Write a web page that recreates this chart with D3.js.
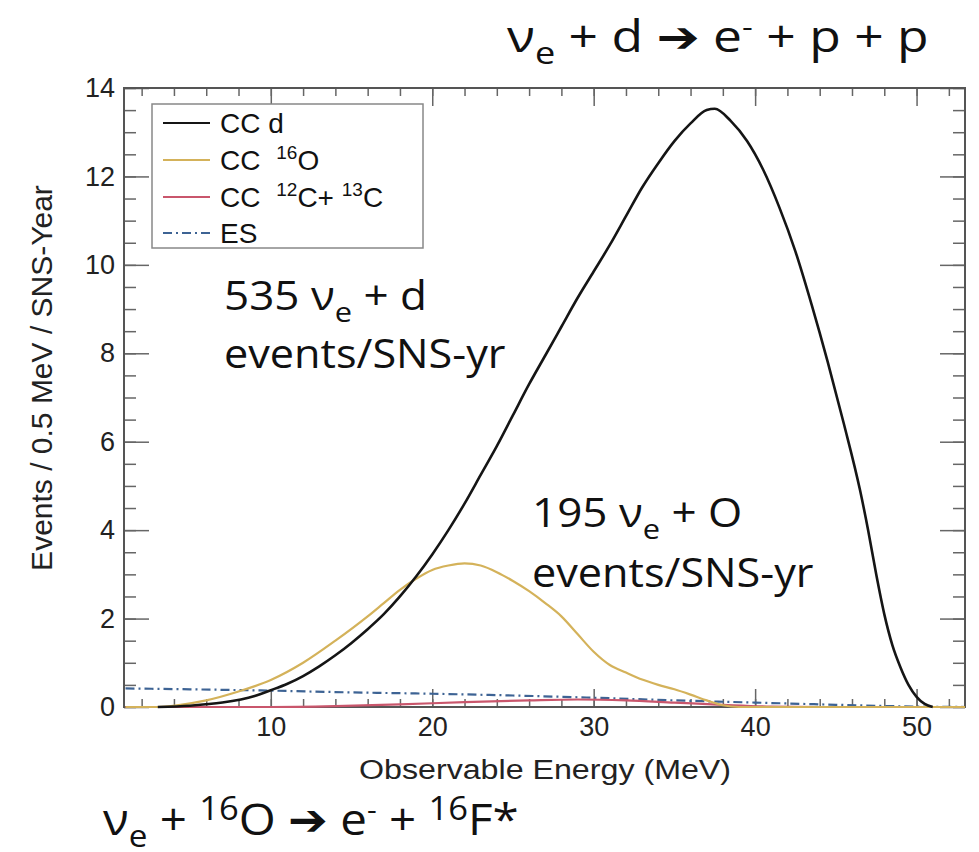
<!DOCTYPE html>
<html>
<head>
<meta charset="utf-8">
<script src="https://cdn.jsdelivr.net/npm/d3@7/dist/d3.min.js"></script>
<style>
  body { margin: 0; background: #fff; }
  .tick text { font-family: "Liberation Sans", Arial, sans-serif; fill: #222; }
</style>
</head>
<body>
<div id="vis"></div>
<script>
// CC on deuterium (black)
var ccdE = [3, 5, 7, 9, 10, 11, 12, 13, 14, 15, 16, 17, 18, 19, 20, 21, 22, 23, 24, 25, 26, 27, 28, 29, 30,
  31, 32, 33, 34, 35, 36, 37, 37.5, 38.5, 39.5, 40.5, 41.5, 42.5, 43.5, 44.5, 45.5, 46.5, 47,
  47.5, 48, 48.5, 49, 49.5, 50, 50.5, 51];
var ccdN = [0, 0.03, 0.1, 0.25, 0.38, 0.52, 0.7, 0.92, 1.17, 1.45, 1.76, 2.1, 2.5, 2.95, 3.45, 4.0, 4.6, 5.25, 5.9, 6.6, 7.3, 7.95, 8.6, 9.25, 9.85,
  10.45, 11.1, 11.75, 12.3, 12.8, 13.2, 13.5, 13.53, 13.25, 12.8, 12.15, 11.3, 10.3, 9.1, 7.8, 6.4, 4.9, 4.0,
  3.0, 2.1, 1.4, 0.9, 0.5, 0.23, 0.07, 0];

// CC on 16O (gold)
var oxyE = [1, 3, 4.4, 6, 8, 10, 12, 14, 16, 17, 18, 19, 20, 21, 22, 23, 24, 25, 26, 27, 28, 29, 30,
  31, 32, 33, 34, 35, 36, 37, 38, 39, 53];
var oxyN = [0, 0, 0.05, 0.15, 0.35, 0.61, 1.0, 1.5, 2.05, 2.35, 2.65, 2.9, 3.1, 3.2, 3.25, 3.2, 3.05, 2.85, 2.62, 2.35, 2.05, 1.65, 1.25,
  0.95, 0.78, 0.62, 0.5, 0.4, 0.28, 0.15, 0.04, 0, 0];

// CC on 12C + 13C (red)
var carbE = [1, 10, 14, 18, 22, 26, 29, 32, 35, 38, 41, 44, 53];
var carbN = [0, 0, 0.02, 0.06, 0.11, 0.15, 0.17, 0.15, 0.1, 0.05, 0.01, 0, 0];

// elastic scattering (blue dash-dot)
var esE = [1, 5, 10, 15, 20, 25, 30, 35, 40, 45, 50, 53];
var esN = [0.42, 0.4, 0.37, 0.33, 0.3, 0.26, 0.21, 0.15, 0.1, 0.05, 0.01, 0];

var xMajor = [10, 20, 30, 40, 50];
var xMinor = d3.range(2, 53, 2);
var yMajor = [0, 2, 4, 6, 8, 10, 12, 14];
var yMinor = d3.range(0, 14.01, 0.5);

var legendNames = ['CC d', 'CC 16O', 'CC 12C+13C', 'ES'];

var width = 979;
var height = 852;
// plot frame edges (note: "top" is reserved on window)
var pLeft = 124, pRight = 965, pTop = 88, pBottom = 707;

var svg = d3.select('#vis').append('svg')
  .attr('width', width)
  .attr('height', height);

var x = d3.scaleLinear().domain([1, 53]).range([125.5, 965]);
var y = d3.scaleLinear().domain([0, 14]).range([pBottom, pTop]);

function pts(xs, ys) {
  return xs.map(function (d, i) { return [d, ys[i]]; });
}

var line = d3.line()
  .x(function (d) { return x(d[0]); })
  .y(function (d) { return y(d[1]); })
  .curve(d3.curveMonotoneX);

// minor ticks
svg.append('g').attr('transform', 'translate(0,' + pBottom + ')')
  .call(d3.axisBottom(x).tickValues(xMinor).tickSize(-8).tickFormat(''));
svg.append('g').attr('transform', 'translate(0,' + pTop + ')')
  .call(d3.axisTop(x).tickValues(xMinor).tickSize(-8).tickFormat(''));
svg.append('g').attr('transform', 'translate(' + pLeft + ',0)')
  .call(d3.axisLeft(y).tickValues(yMinor).tickSize(-12).tickFormat(''));
svg.append('g').attr('transform', 'translate(' + pRight + ',0)')
  .call(d3.axisRight(y).tickValues(yMinor).tickSize(-12).tickFormat(''));

// major ticks
svg.append('g').attr('class', 'xaxis').attr('transform', 'translate(0,' + pBottom + ')')
  .call(d3.axisBottom(x).tickValues(xMajor).tickSize(-18).tickPadding(10));
svg.append('g').attr('transform', 'translate(0,' + pTop + ')')
  .call(d3.axisTop(x).tickValues(xMajor).tickSize(-18).tickFormat(''));
svg.append('g').attr('class', 'yaxis').attr('transform', 'translate(' + pLeft + ',0)')
  .call(d3.axisLeft(y).tickValues(yMajor).tickSize(-25).tickPadding(9));
svg.append('g').attr('transform', 'translate(' + pRight + ',0)')
  .call(d3.axisRight(y).tickValues(yMajor).tickSize(-25).tickFormat(''));

svg.selectAll('.domain').remove();
svg.selectAll('.tick line').attr('stroke', '#666').attr('stroke-width', 1.5);
svg.selectAll('.tick text').style('font-size', '27px');

// frame
svg.append('rect')
  .attr('x', pLeft).attr('y', pTop)
  .attr('width', pRight - pLeft).attr('height', pBottom - pTop)
  .attr('fill', 'none').attr('stroke', '#555').attr('stroke-width', 2);

// curves
svg.append('path').datum(pts(esE, esN))
  .attr('d', line).attr('fill', 'none')
  .attr('stroke', '#3d6394').attr('stroke-width', 2.2)
  .attr('stroke-dasharray', '9,4,2,4');
svg.append('path').datum(pts(carbE, carbN))
  .attr('d', line).attr('fill', 'none')
  .attr('stroke', '#c9566c').attr('stroke-width', 2.2);
svg.append('path').datum(pts(oxyE, oxyN))
  .attr('d', line).attr('fill', 'none')
  .attr('stroke', '#d4b25a').attr('stroke-width', 2.2);
svg.append('path').datum(pts(ccdE, ccdN))
  .attr('d', line).attr('fill', 'none')
  .attr('stroke', '#151515').attr('stroke-width', 2.6);

// axis titles
svg.append('text')
  .attr('transform', 'translate(545,779) scale(1.15,1)')
  .attr('text-anchor', 'middle')
  .style('font-family', '"Liberation Sans", Arial, sans-serif')
  .style('font-size', '28px').attr('fill', '#222')
  .text('Observable Energy (MeV)');
svg.append('text')
  .attr('transform', 'translate(52,378) rotate(-90)')
  .attr('text-anchor', 'middle')
  .style('font-family', '"Liberation Sans", Arial, sans-serif')
  .style('font-size', '30px').attr('fill', '#222')
  .text('Events / 0.5 MeV / SNS-Year');

// legend
var lg = svg.append('g');
lg.append('rect')
  .attr('x', 152).attr('y', 104).attr('width', 271).attr('height', 144)
  .attr('fill', '#fff').attr('stroke', '#888').attr('stroke-width', 1.5);
var lgColors = ['#151515', '#d4b25a', '#c9566c', '#3d6394'];
var lgDash = [null, null, null, '9,4,2,4'];
var lgRows = [123, 160, 197, 233];
legendNames.forEach(function (n, i) {
  lg.append('line')
    .attr('x1', 163).attr('x2', 210)
    .attr('y1', lgRows[i]).attr('y2', lgRows[i])
    .attr('stroke', lgColors[i]).attr('stroke-width', 2.2)
    .attr('stroke-dasharray', lgDash[i]);
});
var lgFont = '"Liberation Sans", Arial, sans-serif';
function lgText(row) {
  return lg.append('text')
    .attr('x', 220).attr('y', lgRows[row] + 10)
    .style('font-family', lgFont).style('font-size', '28px').attr('fill', '#111');
}
lgText(0).text('CC d');
var t1 = lgText(1);
t1.append('tspan').text('CC ');
t1.append('tspan').attr('dx', 8).attr('dy', -11).style('font-size', '19px').text('16');
t1.append('tspan').attr('dy', 11).text('O');
var t2 = lgText(2);
t2.append('tspan').text('CC ');
t2.append('tspan').attr('dx', 8).attr('dy', -11).style('font-size', '19px').text('12');
t2.append('tspan').attr('dy', 11).text('C+ ');
t2.append('tspan').attr('dy', -11).style('font-size', '19px').text('13');
t2.append('tspan').attr('dy', 11).text('C');
lgText(3).text('ES');

// reaction labels, slightly widened like the source slide
var calFont = '"Open Sans", "Noto Sans", sans-serif';
function bigText(xp, yp, size, sx) {
  return svg.append('text')
    .attr('transform', 'translate(' + xp + ',' + yp + ') scale(' + sx + ',1)')
    .style('font-family', calFont).style('font-size', size + 'px').attr('fill', '#111');
}
function nuE(t, size) {
  t.append('tspan').text('\u03bd');
  t.append('tspan').attr('dy', 12).style('font-size', (size * 0.7) + 'px').text('e');
  t.append('tspan').attr('dy', -12).text(' + ');
}

var tt = bigText(507, 52, 43, 1.2);
nuE(tt, 43);
tt.append('tspan').text('d ');
tt.append('tspan').style('font-family', 'DejaVu Sans').style('font-weight', 'bold').text('\u2794');
tt.append('tspan').text(' e');
tt.append('tspan').attr('dy', -16).style('font-size', '28px').text('-');
tt.append('tspan').attr('dy', 16).text(' + p + p');

var a1 = bigText(224, 310, 40, 1.1);
a1.append('tspan').text('535 ');
nuE(a1, 40);
a1.append('tspan').text('d');
bigText(224, 368, 40, 1.08).text('events/SNS-yr');

var a2 = bigText(532, 527, 40, 1.1);
a2.append('tspan').text('195 ');
nuE(a2, 40);
a2.append('tspan').text('O');
bigText(532, 587, 40, 1.08).text('events/SNS-yr');

var bt = bigText(103, 835, 44, 1.08);
nuE(bt, 44);
bt.append('tspan').attr('dy', -15).style('font-size', '32px').text('16');
bt.append('tspan').attr('dy', 15).text('O ');
bt.append('tspan').style('font-family', 'DejaVu Sans').style('font-weight', 'bold').text('\u2794');
bt.append('tspan').text(' e');
bt.append('tspan').attr('dy', -16).style('font-size', '28px').text('-');
bt.append('tspan').attr('dy', 16).text(' + ');
bt.append('tspan').attr('dy', -15).style('font-size', '32px').text('16');
bt.append('tspan').attr('dy', 15).text('F*');
</script>
</body>
</html>
